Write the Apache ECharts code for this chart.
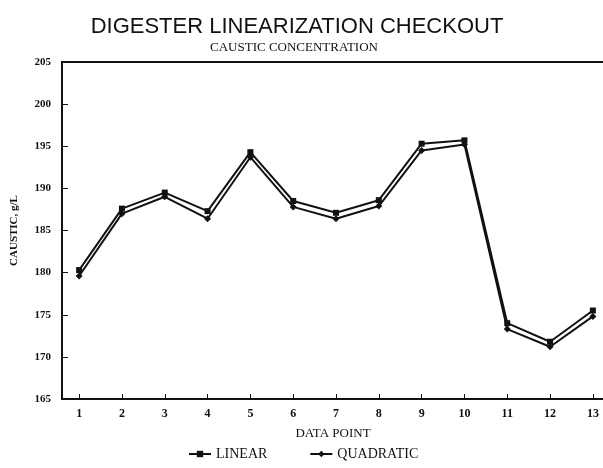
<!DOCTYPE html>
<html>
<head>
<meta charset="utf-8">
<script src="https://cdn.jsdelivr.net/npm/echarts@6/dist/echarts.min.js"></script>
<style>html,body{margin:0;padding:0;background:#fff}#c{width:603px;height:468px}</style>
</head>
<body>
<div id="c"></div>
<script>
var dataPoints = [1,2,3,4,5,6,7,8,9,10,11,12,13];
var linearValues = [180.3,187.6,189.5,187.3,194.3,188.5,187.1,188.6,195.3,195.7,174.0,171.8,175.5];
var quadraticValues = [179.6,187.0,189.0,186.4,193.7,187.8,186.4,187.9,194.5,195.2,173.3,171.2,174.8];
var yTicks = [165,170,175,180,185,190,195,200,205];

function pairs(xs, ys){ return xs.map(function(x,i){ return [x, ys[i]]; }); }

var serif = 'Liberation Serif, Times New Roman, serif';
var chart = echarts.init(document.getElementById('c'), null, {renderer:'canvas'});
chart.setOption({
  backgroundColor:'#fff',
  animation:false,
  title:[
    {text:'DIGESTER LINEARIZATION CHECKOUT', left:292, top:11, textAlign:'center',
     textStyle:{fontFamily:'Liberation Sans, Arial, sans-serif', fontSize:22, fontWeight:'normal', color:'#111'}},
    {text:'CAUSTIC CONCENTRATION', left:289, top:36, textAlign:'center',
     textStyle:{fontFamily:serif, fontSize:13, fontWeight:'normal', color:'#111'}}
  ],
  grid:{left:62, top:62, height:337, width:548, outerBoundsMode:'none', show:true, borderColor:'#111', borderWidth:2, containLabel:false},
  legend:{
    bottom:2, left:183, itemGap:42, itemWidth:22, itemHeight:8,
    data:['LINEAR','QUADRATIC'],
    textStyle:{fontFamily:serif, fontSize:14, color:'#111'}
  },
  xAxis:{
    type:'value', min:0.6, max:13.4,
    name:'DATA POINT', nameLocation:'middle', nameGap:28,
    nameTextStyle:{fontFamily:serif, fontSize:13, color:'#111', padding:[0,6,0,0]},
    axisLine:{show:true, lineStyle:{color:'#111', width:2}},
    axisTick:{show:true, inside:true, length:5, lineStyle:{color:'#111', width:1}, customValues:dataPoints},
    axisLabel:{customValues:dataPoints, margin:9, fontFamily:serif, fontWeight:'bold', fontSize:12, color:'#111'},
    splitLine:{show:false}
  },
  yAxis:{
    type:'value', min:165, max:205, interval:5,
    name:'CAUSTIC, g/L', nameLocation:'middle', nameGap:42, nameRotate:90,
    nameTextStyle:{fontFamily:serif, fontSize:11, fontWeight:'bold', color:'#111'},
    axisLine:{show:true, lineStyle:{color:'#111', width:2}},
    axisTick:{show:true, inside:true, length:6, lineStyle:{color:'#111', width:1}},
    axisLabel:{margin:11, fontFamily:serif, fontWeight:'bold', fontSize:11, color:'#111'},
    splitLine:{show:false}
  },
  series:[
    {name:'LINEAR', type:'line', data:pairs(dataPoints, linearValues), symbol:'rect', symbolSize:6,
     lineStyle:{color:'#111', width:2}, itemStyle:{color:'#111'}},
    {name:'QUADRATIC', type:'line', data:pairs(dataPoints, quadraticValues), symbol:'diamond', symbolSize:7,
     lineStyle:{color:'#111', width:2}, itemStyle:{color:'#111'}}
  ]
});
</script>
</body>
</html>
